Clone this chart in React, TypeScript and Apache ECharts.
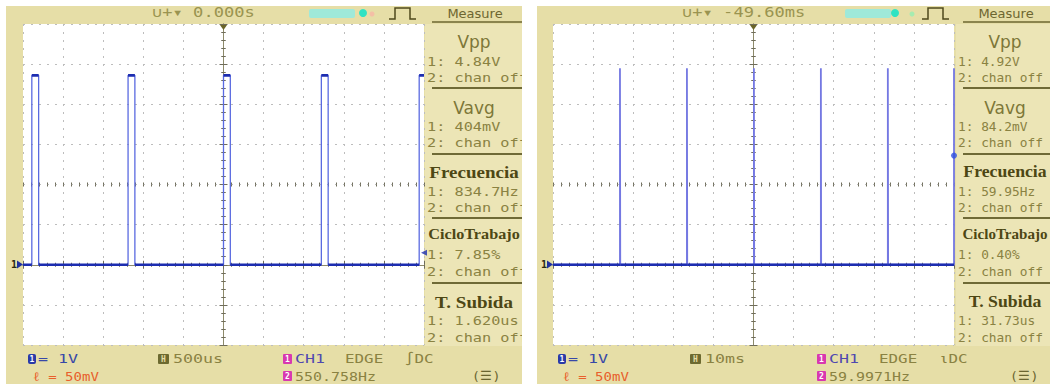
import React, { useEffect, useRef } from 'react';
import * as echarts from 'echarts';

// ---------- Left capture: 500 us/div, 1 V/div (times in us, volts above ground marker) ----------
const leftTimeUs = [-2500, -2390, -2390, -2305, -2305, -1190, -1190, -1105, -1105, 0, 0, 85, 85, 1220, 1220, 1305, 1305, 2440, 2440, 2500];
const leftVolt = [0, 0, 4.72, 4.72, 0, 0, 4.72, 4.72, 0, 0, 4.72, 4.72, 0, 0, 4.72, 4.72, 0, 0, 4.72, 4.72];
const leftTrigLevel = [2500, 0.3];

// ---------- Right capture: 10 ms/div (times in ms) ----------
const rightTimeMs = [-50, -33.3, -33.3, -33.23, -33.23, -16.6, -16.6, -16.53, -16.53, 0.1, 0.1, 0.17, 0.17, 16.8, 16.8, 16.87, 16.87, 33.5, 33.5, 33.57, 33.57, 50, 50];
const rightVolt = [0, 0, 4.9, 4.9, 0, 0, 4.9, 4.9, 0, 0, 4.9, 4.9, 0, 0, 4.9, 4.9, 0, 0, 4.9, 4.9, 0, 0, 4.9];
const rightTrigLevel = [50, 2.72];

// ---------- Texts ----------
const measureNames = ['Vpp', 'Vavg', 'Frecuencia', 'CicloTrabajo', 'T. Subida'];
const leftMeasureValues = ['4.84V', '404mV', '834.7Hz', '7.85%', '1.620us'];
const rightMeasureValues = ['4.92V', '84.2mV', '59.95Hz', '0.40%', '31.73us'];
const topLabels = ['\u222A+\u25BE 0.000s', '\u222A+\u25BE -49.60ms'];
const timebaseLabels = ['500us', '10ms'];
const freqLabels = ['550.758Hz', '59.9971Hz'];
const edgeLabels = ['\u222BDC', '\u03B9DC'];

const MONO = '"DejaVu Sans Mono"';
const OLIVE = '#8a8242';

function pts(ts: number[], vs: number[]) {
  return ts.map((t, i) => [t, vs[i]]);
}
function flatSegments(ts: number[], vs: number[]) {
  const out: any[] = [];
  for (let i = 0; i < ts.length - 1; i++) {
    if (vs[i] === vs[i + 1] && ts[i] !== ts[i + 1]) {
      out.push([ts[i], vs[i]], [ts[i + 1], vs[i + 1]], [ts[i + 1], '-']);
    }
  }
  return out;
}

const T = (x: number, y: number, text: string, font: string, fill: string, align = 'left', sx = 1) => ({
  type: 'text', x, y, scaleX: sx, z: 100,
  style: { text, font, fill, textAlign: align, align, textVerticalAlign: 'middle', verticalAlign: 'middle' },
});
const R = (x: number, y: number, w: number, h: number, fill: string, z: number, r = 0) => ({
  type: 'rect', z, shape: { x, y, width: w, height: h, r }, style: { fill },
});
const L = (x1: number, y1: number, x2: number, y2: number, stroke: string, w: number, z = 100) => ({
  type: 'line', z, shape: { x1, y1, x2, y2 }, style: { stroke, lineWidth: w },
});

const gridLine = { color: '#bdbdbd', type: [2, 6], width: 1 };
const tickStyle = { color: '#6e6c5a', width: 1 };

function xAxes(gi: number, min: number, max: number, interval: number) {
  const base: any = { type: 'value', gridIndex: gi, min, max, interval, axisLabel: { show: false }, splitLine: { show: false } };
  const ruler = {
    axisLine: { show: true, lineStyle: { color: '#8d8a6a' } },
    axisTick: { show: true, inside: true, length: 4, lineStyle: tickStyle },
    minorTick: { show: true, splitNumber: 5, length: 2, lineStyle: tickStyle },
  };
  const center = {
    axisLine: { show: false },
    minorTick: { show: true, splitNumber: 5, length: 2, lineStyle: tickStyle },
  };
  return [
    { ...base, position: 'bottom', ...ruler, splitLine: { show: true, lineStyle: gridLine } },
    { ...base, position: 'top', ...ruler },
    { ...base, position: 'bottom', offset: -160.5, ...center, axisTick: { show: true, inside: true, length: 2, lineStyle: tickStyle } },
    { ...base, position: 'bottom', offset: -160.5, ...center, axisTick: { show: true, inside: false, length: 2, lineStyle: tickStyle } },
  ];
}
function yAxes(gi: number) {
  const base: any = { type: 'value', gridIndex: gi, min: -2, max: 6, interval: 1, axisLabel: { show: false }, splitLine: { show: false } };
  const ruler = {
    axisLine: { show: true, lineStyle: { color: '#8d8a6a' } },
    axisTick: { show: true, inside: true, length: 4, lineStyle: tickStyle },
    minorTick: { show: true, splitNumber: 5, length: 2, lineStyle: tickStyle },
  };
  const center = {
    axisLine: { show: false },
    minorTick: { show: true, splitNumber: 5, length: 2, lineStyle: tickStyle },
  };
  return [
    { ...base, position: 'left', ...ruler, splitLine: { show: true, lineStyle: gridLine } },
    { ...base, position: 'right', ...ruler },
    { ...base, position: 'left', offset: -200.5, ...center, axisTick: { show: true, inside: true, length: 2, lineStyle: tickStyle } },
    { ...base, position: 'left', offset: -200.5, ...center, axisTick: { show: true, inside: false, length: 2, lineStyle: tickStyle } },
  ];
}

const headerY = [42, 108, 172, 234, 302];
const val1Y = [62, 127, 192, 255, 321];
const val2Y = [78, 143, 208, 272, 338];
const sepY = [88, 154, 218, 283];

function panelGraphics(dx: number, mdx: number, values: string[], idx: number) {
  const g: any[] = [];
  const smallSx = idx ? 1.07 : 1.27;
  const headFactor = idx ? 0.93 : 1;
  // frame and screen
  g.push(R(6 + dx + (idx ? 1 : 0), 6, 516, 378, '#E6DEA7', -20));
  g.push(R(425 + mdx, 24, 100, 322, '#ECE5B6', -15));
  g.push(R(23 + dx, 24, 401, 321, '#ffffff', -10));
  // top bar
  g.push(T(152 + dx, 13, topLabels[idx], `14px ${MONO}`, '#9a9450', 'left', 1.22));
  g.push(R(309 + dx + (idx ? 6 : 0), 9, 46, 9, '#9fe9d9', 100, 2));
  g.push({ type: 'circle', z: 100, shape: { cx: 363 + dx + (idx ? 2 : 0), cy: 13, r: 4 }, style: { fill: '#2fe3c3' } });
  g.push({ type: 'circle', z: 100, shape: { cx: 372 + dx + (idx ? 10 : 0), cy: 14, r: 2.5 }, style: { fill: idx ? '#a6ecb0' : '#f4bfa6' } });
  const px = 389 + dx + (idx ? 3 : 0);
  g.push({ type: 'polyline', z: 100, shape: { points: [[px, 19], [px + 6, 19], [px + 6, 8], [px + 21, 8], [px + 21, 19], [px + 27, 19]] }, style: { stroke: '#4f4a1c', lineWidth: 1.5, fill: null } });
  g.push(T(475 + mdx, 13, 'Measure', '13px "DejaVu Sans"', '#6d6630', 'center'));
  g.push(L(432 + mdx, 22, 522 + mdx, 22, '#6d6630', 1.5));
  // trigger position marker
  g.push({ type: 'polygon', z: 100, shape: { points: [[220 + dx, 25], [227 + dx, 25], [223.5 + dx, 30]] }, style: { fill: '#6a6428' } });
  // channel 1 ground marker
  g.push(T(11 + dx, 264, '1', `bold 10px ${MONO}`, '#2a2a10'));
  g.push({ type: 'polygon', z: 100, shape: { points: [[17 + dx, 260.5], [23 + dx, 264.5], [17 + dx, 268.5]] }, style: { fill: '#2030a0' } });
  // measurement panel
  for (let i = 0; i < measureNames.length; i++) {
    const isBig = i < 2;
    const font = isBig ? '17px "DejaVu Sans"' : (i === 3 ? 'bold 15px "Liberation Serif"' : 'bold 17px "Liberation Serif"');
    const sx = isBig ? 1 : (i === 2 ? 1.12 : i === 3 ? 1.08 : 1.12) * headFactor;
    g.push(T(474 + mdx, headerY[i], measureNames[i], font, isBig ? '#7d7738' : '#4d4714', 'center', sx));
    g.push(T(427 + mdx, val1Y[i], '1: ' + values[i], `12px ${MONO}`, OLIVE, 'left', smallSx));
    g.push(T(427 + mdx, val2Y[i], '2: chan off', `12px ${MONO}`, OLIVE, 'left', smallSx));
    if (i < sepY.length) g.push(L(432 + mdx, sepY[i], 522 + mdx, sepY[i], '#6f6a36', 2));
  }
  // bottom info rows
  const r1 = 359, r2 = 376;
  g.push(R(28 + dx, 354, 8, 10, '#2a3aa8', 100, 2));
  g.push(T(32 + dx, r1, '1', `bold 8px ${MONO}`, '#ffffff', 'center'));
  g.push(T(38 + dx, r1, '= 1V', `13px ${MONO}`, '#3848a8', 'left', 1.28));
  g.push(T(33 + dx, r2, '\u2113 = 50mV', `13px ${MONO}`, '#e8602c', 'left', 1.08));
  const tbx = idx ? 160 : 158;
  g.push(R(tbx + dx, 354, 11, 10, '#6d6a30', 100, 1));
  g.push(T(tbx + 5.5 + dx, r1, 'H', `bold 8px ${MONO}`, '#e5dda7', 'center'));
  g.push(T(tbx + 15 + dx, r1, timebaseLabels[idx], `13px ${MONO}`, OLIVE, 'left', 1.28));
  const cx = 283 + dx + (idx ? 4 : 0);
  g.push(R(cx, 354, 9, 10, '#d838b0', 100, 1));
  g.push(T(cx + 4.5, r1, '1', `bold 8px ${MONO}`, '#ffffff', 'center'));
  g.push(T(cx + 12, r1, 'CH1', `13px ${MONO}`, '#5048b0', 'left', 1.28));
  g.push(T(cx + 62, r1, 'EDGE', `13px ${MONO}`, OLIVE, 'left', 1.22));
  g.push(T(cx + 122, r1, edgeLabels[idx], `13px ${MONO}`, OLIVE, 'left', 1.22));
  g.push(R(cx, 371, 9, 10, '#d838b0', 100, 1));
  g.push(T(cx + 4.5, r2, '2', `bold 8px ${MONO}`, '#ffffff', 'center'));
  g.push(T(cx + 12, r2, freqLabels[idx], `13px ${MONO}`, OLIVE, 'left', 1.15));
  g.push(T(472 + dx + (idx ? 8 : 0), r2, '(\u2630)', `12px ${MONO}`, '#6a6530', 'left', 1.1));
  return g;
}

export default function App() {
  const ref = useRef<HTMLDivElement>(null);
  useEffect(() => {
    if (!ref.current) return;
    const chart = echarts.init(ref.current, null, { renderer: 'svg' });
    const graphics = [
      ...panelGraphics(0, 0, leftMeasureValues, 0),
      ...panelGraphics(530, 531, rightMeasureValues, 1),
      R(522, 0, 15, 385, '#ffffff', 120),
    ];
    chart.setOption({
      animation: false,
      backgroundColor: '#ffffff',
      grid: [
        { left: 23, top: 24, width: 401, height: 321, show: false },
        { left: 553, top: 24, width: 401, height: 321, show: false },
      ],
      xAxis: [...xAxes(0, -2500, 2500, 500), ...xAxes(1, -50, 50, 10)],
      yAxis: [...yAxes(0), ...yAxes(1)],
      graphic: graphics,
      series: [
        { type: 'line', name: 'CH1 edges', xAxisIndex: 0, yAxisIndex: 0, data: pts(leftTimeUs, leftVolt), symbol: 'none', lineStyle: { color: '#5a6ae0', width: 1.3 }, z: 3 },
        { type: 'line', name: 'CH1', xAxisIndex: 0, yAxisIndex: 0, data: flatSegments(leftTimeUs, leftVolt), symbol: 'none', lineStyle: { color: '#1c2db0', width: 2.6 }, z: 4 },
        { type: 'scatter', name: 'trig L', xAxisIndex: 0, yAxisIndex: 0, data: [leftTrigLevel], symbol: 'triangle', symbolRotate: 90, symbolSize: 6, itemStyle: { color: '#1c2db0' }, clip: false, z: 5 },
        { type: 'line', name: 'CH1 edges R', xAxisIndex: 4, yAxisIndex: 4, data: pts(rightTimeMs, rightVolt), symbol: 'none', lineStyle: { color: '#7478e2', width: 1.8 }, z: 3 },
        { type: 'line', name: 'CH1 R', xAxisIndex: 4, yAxisIndex: 4, data: flatSegments(rightTimeMs, rightVolt).filter((p: any) => p[1] !== 4.9), symbol: 'none', lineStyle: { color: '#1c2db0', width: 2.6 }, z: 4 },
        { type: 'scatter', name: 'trig R', xAxisIndex: 4, yAxisIndex: 4, data: [rightTrigLevel], symbol: 'circle', symbolSize: 6, itemStyle: { color: '#3050e0' }, clip: false, z: 5 },
      ],
    });
    return () => chart.dispose();
  }, []);
  return <div ref={ref} style={{ position: 'absolute', left: 0, top: 0, width: 1050, height: 385, background: '#ffffff' }} />;
}
